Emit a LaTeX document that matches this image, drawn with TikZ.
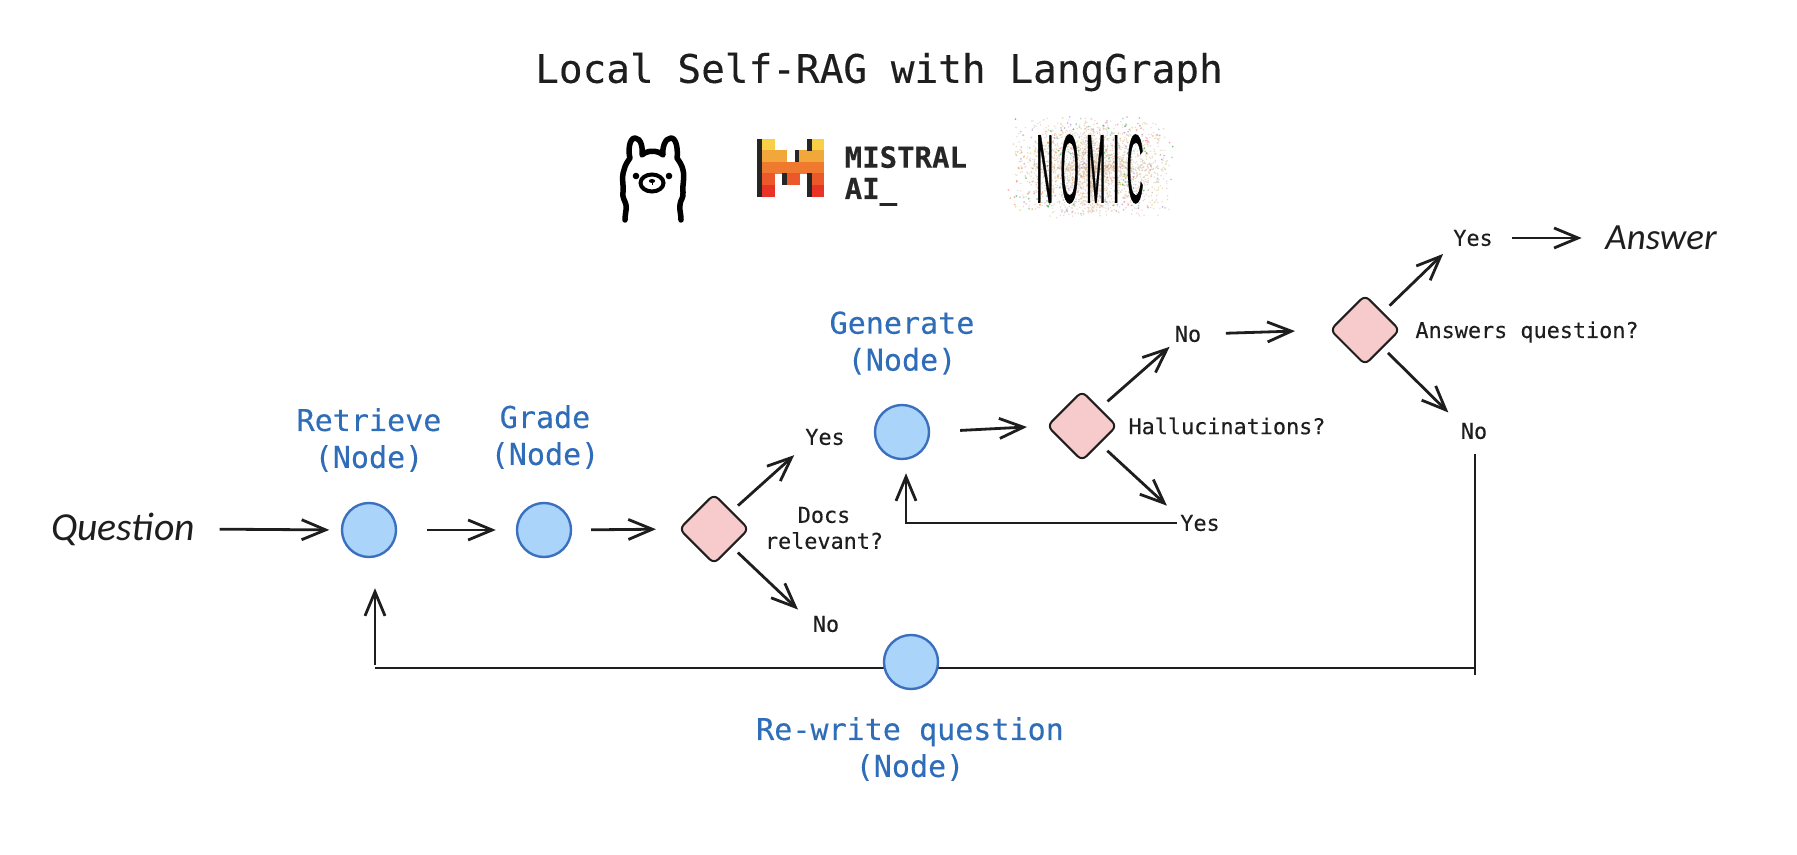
\documentclass[tikz,border=0pt]{standalone}
\usepackage{fontspec}
\setmonofont{DejaVu Sans Mono}[FakeBold=.25]
\newfontfamily\handfont{Carlito}
\newfontfamily\logofont{Liberation Sans}[LetterSpace=32,FakeBold=1.2]
\usepackage{tikz}
\usetikzlibrary{calc}
\usetikzlibrary{arrows.meta}
\usetikzlibrary{shapes.geometric}

\definecolor{nodefill}{HTML}{ABD4FB}
\definecolor{nodeline}{HTML}{3A70BE}
\definecolor{nodetext}{HTML}{2F6DB9}
\definecolor{gatefill}{HTML}{F7CBCB}
\definecolor{inkline}{HTML}{1E1E1E}
\definecolor{barone}{HTML}{F7D046}
\definecolor{bartwo}{HTML}{F2A73B}
\definecolor{barthree}{HTML}{EE792F}
\definecolor{barfour}{HTML}{EB5829}
\definecolor{barfive}{HTML}{EA3326}

\tikzset{
  graphnode/.style={circle,draw=nodeline,fill=nodefill,line width=.24mm,minimum size=5.4mm,inner sep=0},
  gate/.style={diamond,draw=inkline,fill=gatefill,line width=.2mm,rounded corners=.6mm,minimum width=7mm,minimum height=7mm,inner sep=0},
  nodelabel/.style={text=nodetext,align=center,inner sep=0,font=\fontsize{8.55}{10.5}\selectfont\ttfamily},
  choice/.style={text=inkline,align=center,inner sep=0,font=\fontsize{6.2}{7.4}\selectfont\ttfamily},
  hand/.style={text=inkline,inner sep=0,font=\fontsize{10.5}{12}\selectfont\handfont\itshape},
  flow/.style={draw=inkline,line width=.28mm,-{Straight Barb[length=2.4mm,width=2mm]}},
  plainline/.style={draw=inkline,line width=.28mm}
}

\begin{document}
\begin{tikzpicture}[x=.01cm,y=-.01cm]
        \useasboundingbox (0,0) rectangle (1797,855);

        \node[inner sep=0,text=inkline,font=\fontsize{11.2}{13}\selectfont\ttfamily] (title) at (879,72) {Local Self-RAG with LangGraph};

        % llama
        \draw[line width=.55mm,line cap=round,line join=round] (625,220) .. controls (625,213) and (627,209) .. (626,205)
          .. controls (625,200) and (622,198) .. (623,192) .. controls (624,186) and (621,178) .. (624,170)
          .. controls (625,165) and (628,161) .. (630,158) .. controls (628,152) and (629,138) .. (635,138)
          .. controls (641,138) and (643,148) .. (642,155) .. controls (647,150) and (658,150) .. (663,155)
          .. controls (662,148) and (665,138) .. (671,138) .. controls (677,138) and (678,152) .. (677,158)
          .. controls (679,161) and (682,165) .. (683,170) .. controls (685,178) and (682,186) .. (683,192)
          .. controls (684,198) and (680,200) .. (680,205) .. controls (679,209) and (681,213) .. (681,220);
        \draw[line width=.4mm] (652,183) ellipse (11.5 and 8.5);
        \fill (636,176) circle (3.3);
        \fill (669,176) circle (3.3);
        \fill (652,181) ellipse (3.2 and 2);
        \draw[line width=.1mm] (652,181) -- (652,185);

        % mistral
        \fill[barone] (757,139) rectangle (775,151);
        \fill[barone] (807,139) rectangle (824,151);
        \fill[bartwo] (757,150.5) rectangle (787,162.5);
        \fill[bartwo] (795,150.5) rectangle (824,162.5);
        \fill[barthree] (757,162) rectangle (824,174);
        \fill[barfour] (757,173.5) rectangle (775,185.5);
        \fill[barfour] (787,173.5) rectangle (800,185.5);
        \fill[barfour] (807,173.5) rectangle (824,185.5);
        \fill[barfive] (757,185) rectangle (775,197);
        \fill[barfive] (807,185) rectangle (824,197);
        \fill[black!85] (757,139) rectangle (762,197);
        \fill[black!85] (807,139) rectangle (812,151);
        \fill[black!85] (807,173.5) rectangle (812,197);
        \fill[black!85] (795,150.5) rectangle (799,162);
        \fill[black!85] (782,173.5) rectangle (787,185.5);
        \node[inner sep=0,anchor=west,align=left,text=black!85,font=\fontsize{8.25}{8.9}\selectfont\ttfamily\bfseries] (mistral) at (844,176) {MISTRAL\\AI\_};

        % nomic
        \pgfmathsetseed{11}
        \pgfmathdeclarerandomlist{speck}{{red!60}{blue!50}{green!60!black}{orange}{violet!60}{yellow!80!black}{teal!60}}
        \foreach \i in {1,...,2600} {
          \pgfmathsetmacro\px{1092+78*rnd*cos(rnd*360)}
          \pgfmathsetmacro\py{168+50*rnd*sin(rnd*360)}
          \fill[black!45!orange!40!white,opacity=.5] (\px,\py) circle (.8);
        }
        \foreach \i in {1,...,300} {
          \pgfmathsetmacro\px{1090+85*sqrt(rnd)*cos(rnd*360)}
          \pgfmathsetmacro\py{166+50*sqrt(rnd)*sin(rnd*360)}
          \pgfmathrandomitem{\speckcol}{speck}
          \fill[\speckcol,opacity=.5] (\px,\py) circle (1);
        }
        \node[inner sep=0,xscale=.24,text=black,font=\fontsize{27.5}{29}\selectfont\logofont] (nomic) at (1090,169) {NOMIC};

        % lines under the nodes
        \coordinate (bottomleft) at (375,668);
        \coordinate (bottomright) at (1475,668);
        \coordinate (bottomend) at (1475,675);
        \draw[plainline] (bottomleft) -- (bottomright);

        \node[hand,font=\fontsize{11.3}{12}\selectfont\handfont\itshape] (question) at (123,529) {Question};
        \node[graphnode] (retrieve) at (369,530) {};
        \node[graphnode] (grade) at (544,530) {};
        \node[gate] (docs) at (714,529) {};
        \node[graphnode] (generate) at (902,432) {};
        \node[gate] (halluc) at (1082,426) {};
        \node[gate] (answers) at (1365,330) {};
        \node[graphnode] (rewrite) at (911,662) {};
        \node[hand] (answer) at (1661,238) {Answer};

        \node[nodelabel] (retrievelabel) at (369,440) {Retrieve\\(Node)};
        \node[nodelabel] (gradelabel) at (545,437) {Grade\\(Node)};
        \node[nodelabel] (generatelabel) at (902,343) {Generate\\(Node)};
        \node[nodelabel] (rewritelabel) at (910,749) {Re-write question\\(Node)};

        \node[choice] (docslabel) at (824,528) {Docs\\relevant?};
        \node[choice] (hallabel) at (1227,426) {Hallucinations?};
        \node[choice] (answerslabel) at (1527,332) {Answers question?};
        \node[choice] (docsyes) at (825,437) {Yes};
        \node[choice] (docsno) at (826,624) {No};
        \node[choice] (hallno) at (1188,334) {No};
        \node[choice] (hallyes) at (1200,523) {Yes};
        \node[choice] (answersyes) at (1473,238) {Yes};
        \node[choice] (answersno) at (1474,431) {No};

        \draw[flow,shorten <=2.4mm,shorten >=1.15mm] (question.east) -- (retrieve.west);
        \draw[flow,shorten <=3mm,shorten >=2mm] (retrieve.east) -- (grade.west);
        \draw[flow,shorten <=1.9mm,shorten >=2.2mm] (grade.east) -- (docs.west);
        \draw[flow,shorten <=.8mm,shorten >=1.4mm] (docs.north east) -- (docsyes.south west);
        \draw[flow,shorten <=.8mm,shorten >=1.4mm] (docs.south east) -- ([xshift=-.04cm,yshift=-.04cm]docsno.north west);
        \draw[flow,shorten <=3mm,shorten >=1.9mm] (generate.east) -- (halluc.west);
        \draw[flow,shorten <=1mm,shorten >=.6mm] (halluc.north east) -- (hallno.south west);
        \draw[flow,shorten <=1mm,shorten >=2mm] (halluc.south east) -- ([xshift=.02cm,yshift=-.05cm]hallyes.north west);
        \draw[flow,shorten <=.3mm,shorten >=1.3mm] (hallyes.west) -| ([xshift=.04cm]generate.south);
        \draw[flow,shorten <=2.4mm,shorten >=3.4mm] (hallno.east) -- (answers.west);
        \draw[flow,shorten <=.9mm,shorten >=1.6mm] (answers.north east) -- ([xshift=.02cm,yshift=.04cm]answersyes.south west);
        \draw[flow,shorten <=.7mm,shorten >=1.1mm] (answers.south east) -- ([xshift=-.04cm,yshift=.02cm]answersno.north west);
        \draw[flow,shorten <=1.9mm,shorten >=2.3mm] (answersyes.east) -- (answer.west);
        \draw[plainline,shorten <=1.4mm] (answersno.south -| bottomend) -- (bottomend);
        \draw[flow,shorten <=.3mm,shorten >=3mm] (bottomleft) -- (bottomleft |- retrieve.south);
\end{tikzpicture}
\end{document}
